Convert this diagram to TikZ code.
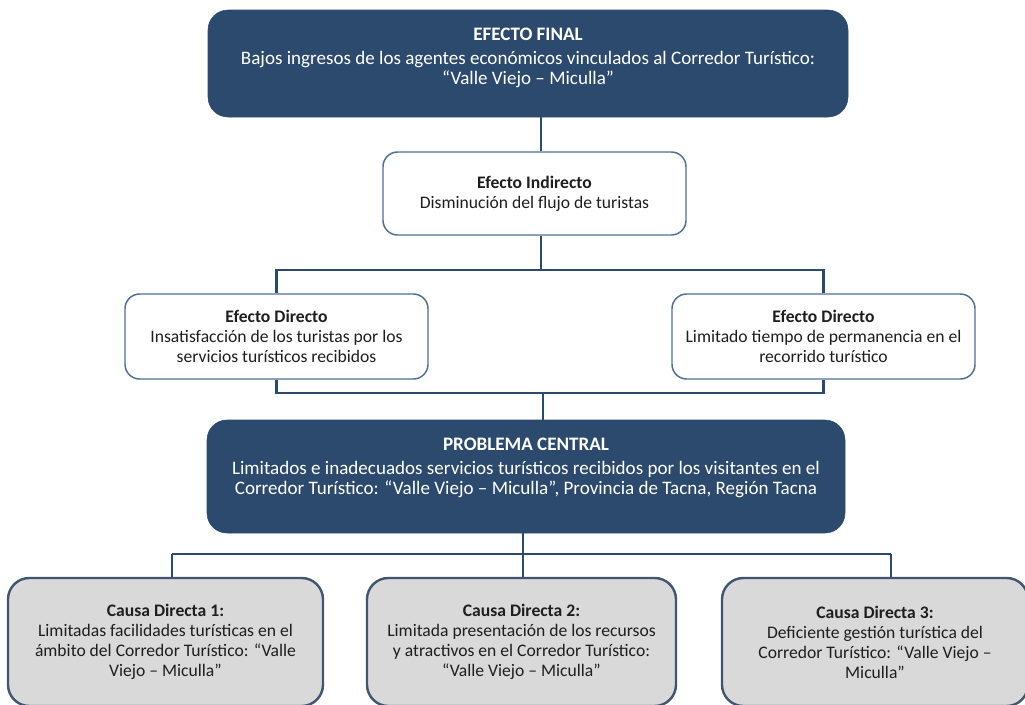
\documentclass[tikz,border=0pt]{standalone}
\usepackage{fontspec}
\setmainfont{Carlito}
\usepackage{tikz}
\usetikzlibrary{positioning,calc}

\begin{document}
\begin{tikzpicture}[x=0.75pt,y=-0.75pt,
    every node/.style={font=\fontsize{13.2}{15}\selectfont, align=center, inner sep=0pt},
    darkbox/.style={fill=navy, draw=navy, rounded corners=15pt, text=white, font=\fontsize{14.3}{15}\selectfont},
    plainbox/.style={fill=white, draw=edge, line width=1.1pt, rounded corners=11pt, text=ink},
    causebox/.style={fill=causefill, draw=slate, line width=1.8pt, rounded corners=16pt, text=ink},
    link/.style={draw=navy, line width=1.9pt}]
  \definecolor{navy}{HTML}{2C4A6E}\definecolor{edge}{HTML}{4F6F96}
  \definecolor{slate}{HTML}{3F5570}\definecolor{causefill}{HTML}{D9D9D9}\definecolor{ink}{HTML}{1E1E1E}
  \useasboundingbox (0,0) rectangle (1025,704);
  \clip (0,0) rectangle (1025,704);
  % effects
  \node[darkbox, minimum width=480pt, minimum height=80.25pt] (final) at (528,63.5)
    {\textbf{EFECTO FINAL}\\[3pt]Bajos ingresos de los agentes económicos vinculados al Corredor Turístico:\\“Valle Viejo – Miculla”\\[-3.5pt]\mbox{}};
  \node[plainbox, minimum width=227.25pt, minimum height=62.25pt] (indirect) at (534.5,193.5)
    {\textbf{Efecto Indirecto}\\Disminución del flujo de turistas};
  \node[plainbox, minimum width=227.25pt, minimum height=63.75pt] (direct1) at (276.5,336.5)
    {\textbf{Efecto Directo}\\Insatisfacción de los turistas por los\\servicios turísticos recibidos};
  \node[plainbox, minimum width=227.25pt, minimum height=63.75pt] (direct2) at (823.5,336.5)
    {\textbf{Efecto Directo}\\Limitado tiempo de permanencia en el\\recorrido turístico};
  % central problem
  \node[darkbox, minimum width=478.5pt, minimum height=84.75pt] (central) at (526,476.5)
    {\textbf{PROBLEMA CENTRAL}\\[3pt]Limitados e inadecuados servicios turísticos recibidos por los visitantes en el\\Corredor Turístico: “Valle Viejo – Miculla”, Provincia de Tacna, Región Tacna\\\mbox{}};
  % causes
  \node[causebox, minimum width=236.25pt, minimum height=96pt] (cause1) at (165.5,642)
    {\textbf{Causa Directa 1:}\\Limitadas facilidades turísticas en el\\ámbito del Corredor Turístico: “Valle\\Viejo – Miculla”};
  \node[causebox, minimum width=231.75pt, minimum height=96pt] (cause2) at (521.5,642)
    {\textbf{Causa Directa 2:}\\Limitada presentación de los recursos\\y atractivos en el Corredor Turístico:\\“Valle Viejo – Miculla”};
  \node[causebox, minimum width=229.5pt, minimum height=96pt] (cause3) at (875,642)
    {\textbf{Causa Directa 3:}\\Deficiente gestión turística del\\Corredor Turístico: “Valle Viejo –\\Miculla”};
  % junctions
  \coordinate (topjoin) at (541,270);
  \coordinate (midjoin) at (543,393);
  \coordinate (lowjoin) at (523,554);
  \coordinate (drop1) at (172,554);
  \coordinate (drop3) at (891,554);
  \draw[link] (final.south -| topjoin) -- (indirect.north -| topjoin);
  \draw[link] (indirect.south -| topjoin) -- (topjoin);
  \draw[link] (topjoin) -| (direct1.north);
  \draw[link] (topjoin) -| (direct2.north);
  \draw[link] (direct1.south) |- (midjoin);
  \draw[link] (direct2.south) |- (midjoin);
  \draw[link] (midjoin) -- (central.north -| midjoin);
  \draw[link] (central.south -| lowjoin) -- (lowjoin);
  \draw[link] (drop1) -- (drop3);
  \draw[link] (drop1) -- (cause1.north -| drop1);
  \draw[link] (lowjoin) -- (cause2.north -| lowjoin);
  \draw[link] (drop3) -- (cause3.north -| drop3);
\end{tikzpicture}
\end{document}
